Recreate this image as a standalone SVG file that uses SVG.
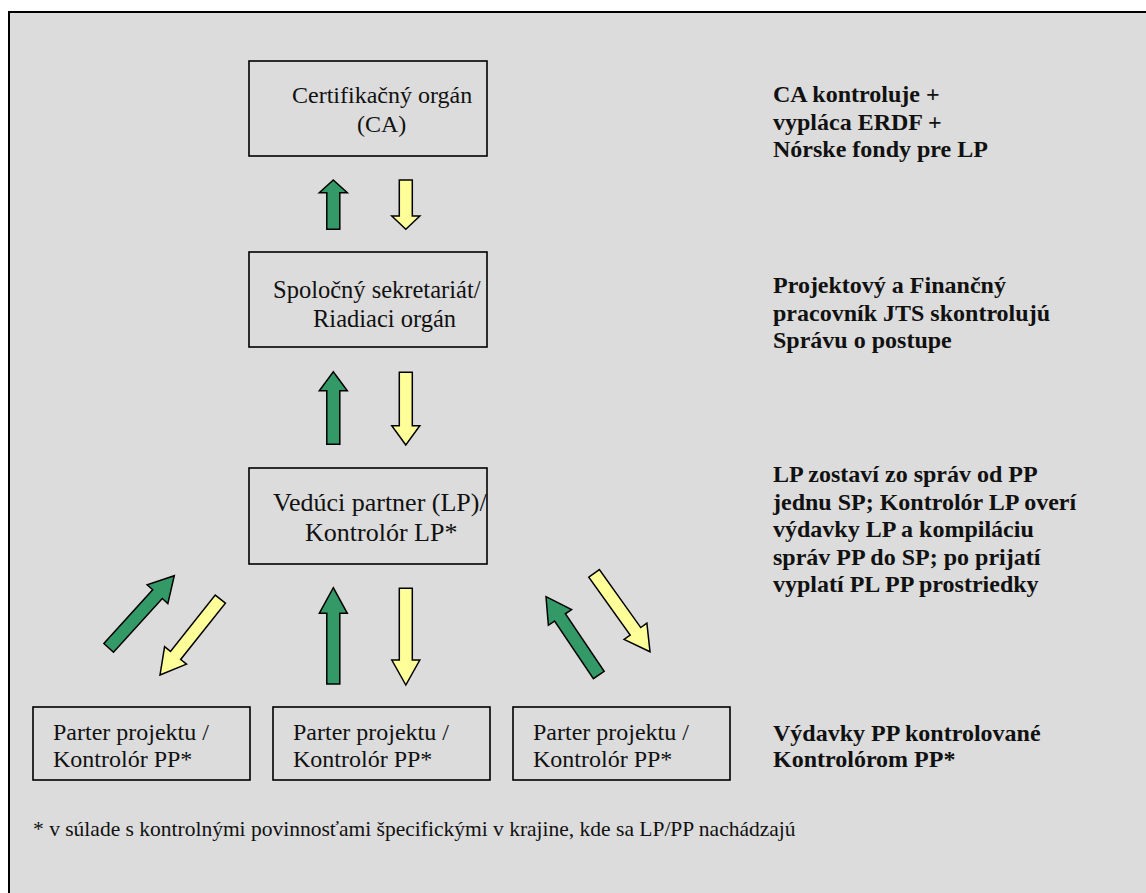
<svg xmlns="http://www.w3.org/2000/svg" width="1146" height="893" viewBox="0 0 1146 893">
<style>
.box{fill:none;stroke:#000;stroke-width:1.6}
.t{font-family:"Liberation Serif","Times New Roman",serif;fill:#111}
.b{font-weight:bold;font-size:24px}
.g{fill:#339966;stroke:#000;stroke-width:1.5;stroke-linejoin:miter}
.y{fill:#ffff99;stroke:#000;stroke-width:1.5;stroke-linejoin:miter}
</style>
<rect x="0" y="0" width="1146" height="893" fill="#fff"/>
<rect x="9" y="12" width="1150" height="900" fill="#dcdcdc" stroke="#000" stroke-width="2"/>
<g id="ca">
<rect class="box" x="249" y="61" width="238" height="95"/>
<text class="t" x="292" y="103" font-size="24">Certifikačný orgán</text>
<text class="t" x="357" y="132" font-size="24">(CA)</text>
</g>
<g id="js">
<rect class="box" x="249" y="252" width="238" height="95"/>
<text class="t" x="273" y="298" font-size="24.5">Spoločný sekretariát/</text>
<text class="t" x="313" y="327" font-size="24.5">Riadiaci orgán</text>
</g>
<g id="lp">
<rect class="box" x="249" y="468" width="238" height="96"/>
<text class="t" x="273" y="511" font-size="26">Vedúci partner (LP)/</text>
<text class="t" x="305" y="541" font-size="26">Kontrolór LP*</text>
</g>
<g id="pp1">
<rect class="box" x="33" y="707" width="217" height="73"/>
<text class="t" x="53" y="740" font-size="24">Parter projektu /</text>
<text class="t" x="53" y="767" font-size="24">Kontrolór PP*</text>
</g>
<g id="pp2">
<rect class="box" x="273" y="707" width="217" height="73"/>
<text class="t" x="293" y="740" font-size="24">Parter projektu /</text>
<text class="t" x="293" y="767" font-size="24">Kontrolór PP*</text>
</g>
<g id="pp3">
<rect class="box" x="513" y="707" width="217" height="73"/>
<text class="t" x="533" y="740" font-size="24">Parter projektu /</text>
<text class="t" x="533" y="767" font-size="24">Kontrolór PP*</text>
</g>
<g id="notes">
<text class="t b" x="773" y="102">CA kontroluje +</text>
<text class="t b" x="773" y="129.5">vypláca ERDF +</text>
<text class="t b" x="773" y="157">Nórske fondy pre LP</text>
<text class="t b" x="773" y="293">Projektový a Finančný</text>
<text class="t b" x="773" y="320.5">pracovník JTS skontrolujú</text>
<text class="t b" x="773" y="348">Správu o postupe</text>
<text class="t b" x="773" y="482">LP zostaví zo správ od PP</text>
<text class="t b" x="773" y="509.5">jednu SP; Kontrolór LP overí</text>
<text class="t b" x="773" y="537">výdavky LP a kompiláciu</text>
<text class="t b" x="773" y="564.5">správ PP do SP; po prijatí</text>
<text class="t b" x="773" y="592">vyplatí PL PP prostriedky</text>
<text class="t b" x="773" y="741">Výdavky PP kontrolované</text>
<text class="t b" x="773" y="767">Kontrolórom PP*</text>
<text class="t" x="33" y="836" font-size="21.5">* v súlade s kontrolnými povinnosťami špecifickými v krajine, kde sa LP/PP nachádzajú</text>
</g>
<g id="connectors">
<polygon class="g" transform="translate(333.3,180)" points="0,0 14,12.7 6.5,12.7 6.5,49.3 -6.5,49.3 -6.5,12.7 -14,12.7"/>
<polygon class="y" transform="translate(405.8,229.3) rotate(180)" points="0,0 14,13.3 6.5,13.3 6.5,49.3 -6.5,49.3 -6.5,13.3 -14,13.3"/>
<polygon class="g" transform="translate(333.3,371.7)" points="0,0 14,19 6.5,19 6.5,72.6 -6.5,72.6 -6.5,19 -14,19"/>
<polygon class="y" transform="translate(405.8,445) rotate(180)" points="0,0 14,19.3 6.5,19.3 6.5,72.7 -6.5,72.7 -6.5,19.3 -14,19.3"/>
<polygon class="g" transform="translate(333.3,587.7)" points="0,0 14,25.6 6.5,25.6 6.5,96.3 -6.5,96.3 -6.5,25.6 -14,25.6"/>
<polygon class="y" transform="translate(405.8,685) rotate(180)" points="0,0 14,25 6.5,25 6.5,96.7 -6.5,96.7 -6.5,25 -14,25"/>
<polygon class="g" transform="translate(174.3,575.7) rotate(42.3)" points="0,0 14,25 6.5,25 6.5,97.5 -6.5,97.5 -6.5,25 -14,25"/>
<polygon class="y" transform="translate(160,675) rotate(-141.5)" points="0,0 14,25 6.5,25 6.5,96.9 -6.5,96.9 -6.5,25 -14,25"/>
<polygon class="g" transform="translate(546,596.7) rotate(-34)" points="0,0 14,25 6.5,25 6.5,94.4 -6.5,94.4 -6.5,25 -14,25"/>
<polygon class="y" transform="translate(650,651.7) rotate(144.5)" points="0,0 14,25 6.5,25 6.5,96.3 -6.5,96.3 -6.5,25 -14,25"/>
</g>
</svg>
